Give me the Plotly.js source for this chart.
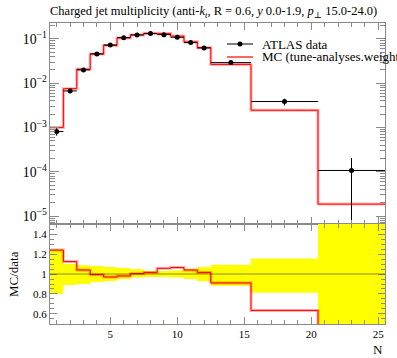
<!DOCTYPE html>
<html>
<head>
<meta charset="utf-8">
<script src="https://cdn.plot.ly/plotly-3.0.1.min.js"></script>
<style>html,body{margin:0;padding:0;background:#fff;}#chart{width:397px;height:358px;}</style>
</head>
<body>
<div id="chart"></div>
<script>
// Bin edges and centres (N)
const binEdges = [0.5,1.5,2.5,3.5,4.5,5.5,6.5,7.5,8.5,9.5,10.5,11.5,12.5,15.5,20.5,25.5];
const binCentres = [1,2,3,4,5,6,7,8,9,10,11,12,14,18,23];
// ATLAS data
const dataValues = [8.1e-4,6.7e-3,0.0200,0.0459,0.0733,0.107,0.123,0.132,0.125,0.109,0.0826,0.0626,0.0292,3.86e-3,1.07e-4];
const dataErrUp = [2.0e-4,6.7e-4,1.74e-3,3.7e-3,5.1e-3,6.4e-3,5.8e-3,4.0e-3,3.8e-3,3.8e-3,4.1e-3,4.4e-3,2.7e-3,6.0e-4,9.7e-5];
const dataErrDown = [1.6e-4,7.4e-4,2.0e-3,3.7e-3,5.1e-3,5.4e-3,4.2e-3,4.0e-3,3.8e-3,3.8e-3,4.1e-3,4.6e-3,3.4e-3,7.2e-4,1.03e-4];
// MC prediction
const mcValues = [1.004e-3,7.53e-3,0.0208,0.0456,0.0711,0.1049,0.1234,0.1341,0.1321,0.1160,0.0859,0.0636,0.0266,2.455e-3,1.86e-5];
// labels
const legendLabels = ["ATLAS data","MC (tune-analyses.weight"];
const titleText = 'Charged jet multiplicity (anti-<i>k</i><sub><i>t</i></sub>, R = 0.6, <i>y</i> 0.0-1.9, <i>p</i><sub>⊥</sub> 15.0-24.0)';

const FONT = "'Liberation Serif', 'DejaVu Serif', serif";
const AX = '#8a8a8a';

const halfW = binCentres.map((c,i)=>({lo:c-binEdges[i], hi:binEdges[i+1]-c}));
const stepY = arr => arr.concat([arr[arr.length-1]]);
const ratio = mcValues.map((v,i)=>v/dataValues[i]);
const bandUp = dataValues.map((v,i)=>1+dataErrUp[i]/v);
const bandDn = dataValues.map((v,i)=>1-dataErrDown[i]/v);

const traces = [
  // ratio band
  {x:binEdges, y:stepY(bandDn), xaxis:'x2', yaxis:'y2', mode:'lines', line:{shape:'hv', width:0, color:'#ffff00'}, hoverinfo:'skip', showlegend:false},
  {x:binEdges, y:stepY(bandUp), xaxis:'x2', yaxis:'y2', mode:'lines', line:{shape:'hv', width:0, color:'#ffff00'}, fill:'tonexty', fillcolor:'#ffff00', hoverinfo:'skip', showlegend:false},
  // ratio MC
  {x:binEdges, y:stepY(ratio), xaxis:'x2', yaxis:'y2', mode:'lines', line:{shape:'hv', width:3, color:'rgba(255,0,0,0.3)'}, hoverinfo:'skip', showlegend:false},
  {x:binEdges, y:stepY(ratio), xaxis:'x2', yaxis:'y2', mode:'lines', line:{shape:'hv', width:1, color:'#ff0000'}, showlegend:false},
  // main MC
  {x:binEdges, y:stepY(mcValues), xaxis:'x', yaxis:'y', mode:'lines', line:{shape:'hv', width:3, color:'rgba(255,0,0,0.3)'}, hoverinfo:'skip', showlegend:false},
  {x:binEdges, y:stepY(mcValues), xaxis:'x', yaxis:'y', mode:'lines', line:{shape:'hv', width:1, color:'#ff0000'}, showlegend:false},
  // main data
  {x:binCentres, y:dataValues, xaxis:'x', yaxis:'y', mode:'markers', marker:{color:'#000', size:5},
   error_x:{type:'data', symmetric:false, array:halfW.map(h=>h.hi), arrayminus:halfW.map(h=>h.lo), color:'#000', thickness:1, width:0},
   error_y:{type:'data', symmetric:false, array:dataErrUp, arrayminus:dataErrDown, color:'#000', thickness:1, width:0},
   showlegend:false}
];

function px2x(p){return (p-50)/335;}
function px2y(p){return (324-p)/301;}

const axCommon = {showline:true, linecolor:AX, linewidth:1, mirror:'allticks', ticks:'inside', tickcolor:AX, showgrid:false, zeroline:false,
  tickfont:{family:FONT, size:11, color:'#000'}};

const layout = {
  width:397, height:358,
  margin:{l:50, r:12, t:23, b:34},
  paper_bgcolor:'#fff', plot_bgcolor:'#fff',
  font:{family:FONT, color:'#000'},
  showlegend:false,
  title:{text:titleText, font:{family:FONT, size:12.5, color:'#000'}, x:0, xref:'paper', xanchor:'left', y:1-11/358, yref:'container', yanchor:'middle'},
  xaxis:Object.assign({}, axCommon, {anchor:'y', range:[0.5,25.5], tick0:0, dtick:5, ticklen:7, showticklabels:false,
    minor:{dtick:1, tick0:0, ticks:'inside', ticklen:4, tickcolor:AX}}),
  yaxis:Object.assign({}, axCommon, {domain:[0.3322,1], type:'log', range:[-5.18,-0.64], dtick:1, exponentformat:'power', ticklen:9,
    minor:{ticks:'inside', ticklen:5, tickcolor:AX}}),
  xaxis2:Object.assign({}, axCommon, {anchor:'y2', matches:'x', range:[0.5,25.5], tick0:0, dtick:5, ticklen:7,
    minor:{dtick:1, tick0:0, ticks:'inside', ticklen:4, tickcolor:AX}}),
  yaxis2:Object.assign({}, axCommon, {domain:[0,0.3322], range:[0.5,1.5], tick0:0, dtick:0.2, ticklen:7,
    minor:{dtick:0.05, tick0:0, ticks:'inside', ticklen:4, tickcolor:AX}}),
  shapes:[
    {type:'line', xref:'x2 domain', yref:'y2', x0:0, x1:1, y0:1, y1:1, line:{color:'rgba(0,0,0,0.45)', width:1}},
    {type:'line', xref:'paper', yref:'paper', x0:px2x(227), x1:px2x(253), y0:px2y(44), y1:px2y(44), line:{color:'#000', width:1}},
    {type:'circle', xref:'paper', yref:'paper', x0:px2x(237.5), x1:px2x(242.5), y0:px2y(46.5), y1:px2y(41.5), fillcolor:'#000', line:{width:0}},
    {type:'line', xref:'paper', yref:'paper', x0:px2x(227), x1:px2x(253), y0:px2y(57), y1:px2y(57), line:{color:'#ff0000', width:1.2}}
  ],
  annotations:[
    {text:legendLabels[0], xref:'paper', yref:'paper', x:px2x(260), y:px2y(44), xanchor:'left', yanchor:'middle', showarrow:false, font:{family:FONT, size:13, color:'#000'}},
    {text:legendLabels[1], xref:'paper', yref:'paper', x:px2x(260), y:px2y(57), xanchor:'left', yanchor:'middle', showarrow:false, font:{family:FONT, size:13, color:'#000'}},
    {text:'MC/data', xref:'paper', yref:'paper', x:px2x(13), y:px2y(274), xanchor:'center', yanchor:'middle', textangle:-90, showarrow:false, font:{family:FONT, size:13, color:'#000'}},
    {text:'N', xref:'paper', yref:'paper', x:1, y:px2y(349), xanchor:'right', yanchor:'middle', showarrow:false, font:{family:FONT, size:13, color:'#000'}}
  ]
};

Plotly.newPlot('chart', traces, layout, {staticPlot:true, displayModeBar:false});
</script>
</body>
</html>
